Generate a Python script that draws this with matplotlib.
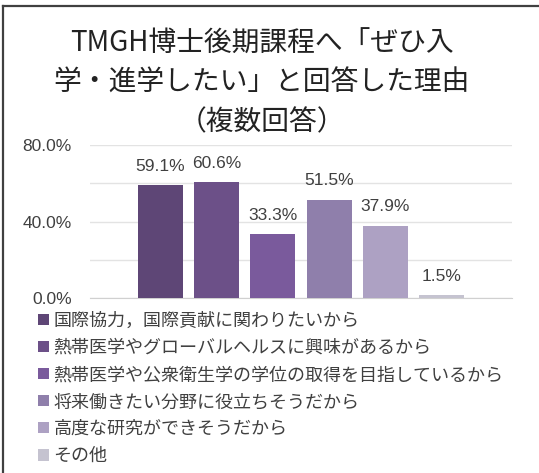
import matplotlib
matplotlib.use("Agg")
import matplotlib.pyplot as plt
from matplotlib.lines import Line2D
from matplotlib.ticker import FuncFormatter

plt.rcParams['font.family'] = ['Noto Sans CJK JP', 'DejaVu Sans']

title = "TMGH博士後期課程へ「ぜひ入\n学・進学したい」と回答した理由\n（複数回答）"
categories = [
    "国際協力，国際貢献に関わりたいから",
    "熱帯医学やグローバルヘルスに興味があるから",
    "熱帯医学や公衆衛生学の学位の取得を目指しているから",
    "将来働きたい分野に役立ちそうだから",
    "高度な研究ができそうだから",
    "その他",
]
values = [59.1, 60.6, 33.3, 51.5, 37.9, 1.5]
colors = ["#5e4676", "#6c5088", "#7a5a9c", "#8f7fab", "#ada1c3", "#c5c3d0"]
yticks = [0, 40, 80]

W, H = 539, 473
fig = plt.figure(figsize=(W / 100, H / 100), dpi=100)
fig.patch.set_facecolor("white")

# frame lines (left and top)
fig.add_artist(Line2D([3 / W, 3 / W], [0, 1 - 6 / H], color="#404040", lw=1.6,
                      transform=fig.transFigure))
fig.add_artist(Line2D([3 / W, 1], [1 - 6 / H, 1 - 6 / H], color="#404040", lw=1.6,
                      transform=fig.transFigure))

ax = fig.add_axes([90 / W, 1 - 298 / H, (512 - 90) / W, (298 - 145) / H])
for i, (v, c, lab) in enumerate(zip(values, colors, categories)):
    ax.bar(i, v, width=0.8, color=c, label=lab, zorder=3)
    ax.annotate(f"{v:.1f}%", (i, v), xytext=(0, 8), textcoords="offset points",
                ha="center", va="bottom", fontsize=12.5, color="#404040",
                family=["Liberation Sans", "DejaVu Sans"])

ax.set_xlim(-1.25, len(values) - 1 + 1.25)
ax.set_ylim(0, 80)
ax.set_yticks(yticks)
ax.set_yticks([20, 60], minor=True)
ax.yaxis.set_major_formatter(FuncFormatter(lambda v, p: f"{v:.1f}%"))
ax.grid(axis="y", which="both", color="#e3e3e3", lw=1, zorder=0)
ax.set_xticks([])
for s in ["top", "right", "left"]:
    ax.spines[s].set_visible(False)
ax.spines["bottom"].set_color("#d0d0d0")
ax.tick_params(axis="y", which="both", length=0, pad=13, labelsize=12.5,
               labelcolor="#404040")
for t in ax.get_yticklabels():
    t.set_family(["Liberation Sans", "DejaVu Sans"])

fig.text(262 / W, 1 - 83 / H, title, ha="center", va="center", fontsize=20,
         linespacing=1.4, color="#222222")

handles, labels = ax.get_legend_handles_labels()
fig.legend(handles, labels, loc="upper left", bbox_to_anchor=(38 / W, 1 - 312 / H),
           frameon=False, fontsize=13, handlelength=0.6, handleheight=0.6,
           handletextpad=0.25, labelspacing=0.5, borderpad=0, borderaxespad=0,
           labelcolor="#404040")

fig.savefig("out.png", dpi=100)
